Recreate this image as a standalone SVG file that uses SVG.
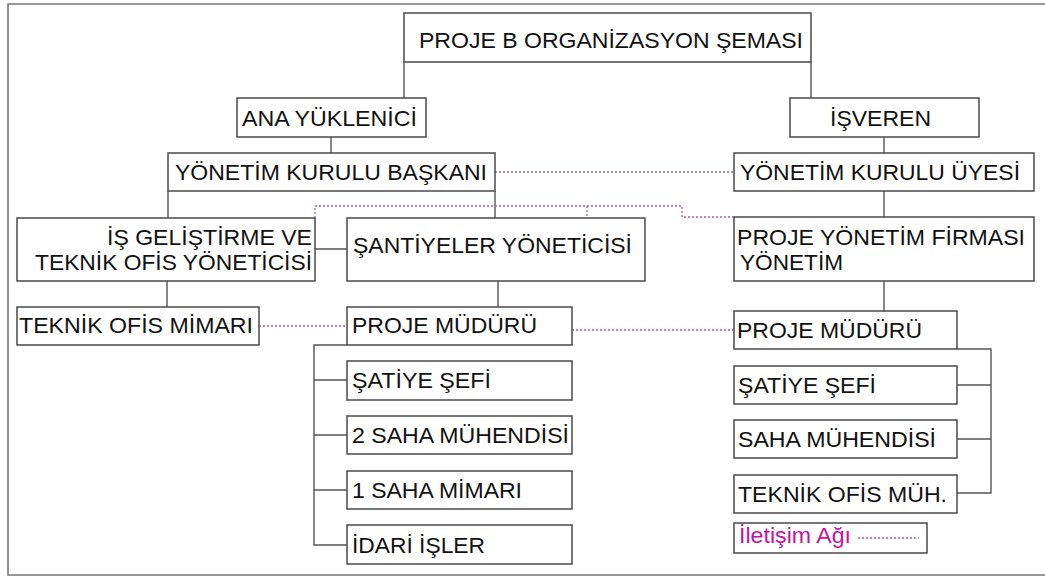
<svg xmlns="http://www.w3.org/2000/svg" width="1045" height="576" viewBox="0 0 1045 576">
<style>
.box{fill:#fff;stroke:#4a4a4a;stroke-width:1.5}
.t{font-family:"Liberation Sans",Arial,sans-serif;font-size:22px;fill:#111}
.lg{font-family:"Liberation Sans",Arial,sans-serif;font-size:22px;fill:#c8139f}
.ln{fill:none;stroke:#555;stroke-width:1.4}
.dot{fill:none;stroke:#b35aa4;stroke-width:1.3;stroke-dasharray:2 2}
.frame{fill:none;stroke:#777;stroke-width:1.6}
</style>
<rect width="1045" height="576" fill="#fff"/>
<path class="frame" d="M1045,4 H8 V575 H1045"/>
<g id="connectors">
<path class="ln" d="M404,62 V98 M811,62 V98 M331,137 V153 M168,191 V218 M495,191 V218 M315,249 H347 M167,281 V307 M498,281 V307"/>
<path class="ln" d="M347,345 H314 V545 H347 M314,380 H347 M314,435 H347 M314,490 H347"/>
<path class="ln" d="M884,137 V153 M884,191 V217 M884,281 V311"/>
<path class="ln" d="M957,349 H991 V493 H957 M991,385 H957 M991,439 H957"/>
<path class="dot" d="M495,172 H734"/>
<path class="dot" d="M315,218 V206 H682 V217 H734 M587,206 V217"/>
<path class="dot" d="M259,326 H347"/>
<path class="dot" d="M572,330 H734"/>
</g>
<g id="title"><rect class="box" x="404" y="13" width="407" height="49"/><text class="t" x="419" y="48" textLength="384" lengthAdjust="spacingAndGlyphs">PROJE B ORGANİZASYON ŞEMASI</text></g>
<g id="ana"><rect class="box" x="237" y="98" width="189" height="39"/><text class="t" x="242" y="126" textLength="175" lengthAdjust="spacingAndGlyphs">ANA YÜKLENİCİ</text></g>
<g id="isveren"><rect class="box" x="790" y="98" width="189" height="39"/><text class="t" x="830" y="126" textLength="101" lengthAdjust="spacingAndGlyphs">İŞVEREN</text></g>
<g id="ykb"><rect class="box" x="168" y="153" width="327" height="38"/><text class="t" x="175" y="180" textLength="312" lengthAdjust="spacingAndGlyphs">YÖNETİM KURULU BAŞKANI</text></g>
<g id="yku"><rect class="box" x="734" y="153" width="300" height="38"/><text class="t" x="740" y="180" textLength="280" lengthAdjust="spacingAndGlyphs">YÖNETİM KURULU ÜYESİ</text></g>
<g id="isgel"><rect class="box" x="17" y="218" width="298" height="63"/><text class="t" x="107" y="245" textLength="205" lengthAdjust="spacingAndGlyphs">İŞ GELİŞTİRME VE</text><text class="t" x="35" y="270" textLength="277" lengthAdjust="spacingAndGlyphs">TEKNİK OFİS YÖNETİCİSİ</text></g>
<g id="santiye"><rect class="box" x="347" y="218" width="298" height="63"/><text class="t" x="353" y="253" textLength="279" lengthAdjust="spacingAndGlyphs">ŞANTİYELER YÖNETİCİSİ</text></g>
<g id="pyf"><rect class="box" x="734" y="217" width="300" height="64"/><text class="t" x="737" y="245" textLength="288" lengthAdjust="spacingAndGlyphs">PROJE YÖNETİM FİRMASI</text><text class="t" x="740" y="270" textLength="103" lengthAdjust="spacingAndGlyphs">YÖNETİM</text></g>
<g id="tom"><rect class="box" x="17" y="307" width="242" height="38"/><text class="t" x="19" y="333" textLength="234" lengthAdjust="spacingAndGlyphs">TEKNİK OFİS MİMARI</text></g>
<g id="pm-left"><rect class="box" x="347" y="307" width="225" height="38"/><text class="t" x="352" y="333" textLength="185" lengthAdjust="spacingAndGlyphs">PROJE MÜDÜRÜ</text></g>
<g id="sef-left"><rect class="box" x="347" y="361" width="225" height="39"/><text class="t" x="352" y="388" textLength="139" lengthAdjust="spacingAndGlyphs">ŞATİYE ŞEFİ</text></g>
<g id="saha2"><rect class="box" x="347" y="416" width="225" height="38"/><text class="t" x="352" y="443" textLength="217" lengthAdjust="spacingAndGlyphs">2 SAHA MÜHENDİSİ</text></g>
<g id="mimar1"><rect class="box" x="347" y="471" width="225" height="38"/><text class="t" x="352" y="498" textLength="170" lengthAdjust="spacingAndGlyphs">1 SAHA MİMARI</text></g>
<g id="idari"><rect class="box" x="347" y="525" width="225" height="39"/><text class="t" x="352" y="553" textLength="133" lengthAdjust="spacingAndGlyphs">İDARİ İŞLER</text></g>
<g id="pm-right"><rect class="box" x="734" y="311" width="223" height="38"/><text class="t" x="737" y="338" textLength="185" lengthAdjust="spacingAndGlyphs">PROJE MÜDÜRÜ</text></g>
<g id="sef-right"><rect class="box" x="734" y="366" width="223" height="38"/><text class="t" x="738" y="393" textLength="138" lengthAdjust="spacingAndGlyphs">ŞATİYE ŞEFİ</text></g>
<g id="saha-right"><rect class="box" x="734" y="420" width="223" height="38"/><text class="t" x="738" y="447" textLength="198" lengthAdjust="spacingAndGlyphs">SAHA MÜHENDİSİ</text></g>
<g id="tom-right"><rect class="box" x="734" y="475" width="223" height="38"/><text class="t" x="738" y="502" textLength="209" lengthAdjust="spacingAndGlyphs">TEKNİK OFİS MÜH.</text></g>
<g id="legend"><rect class="box" x="734" y="523" width="193" height="30"/><text class="lg" x="739" y="543" textLength="112" lengthAdjust="spacingAndGlyphs">İletişim Ağı</text><path class="dot" d="M858,538 H919"/></g>
</svg>
